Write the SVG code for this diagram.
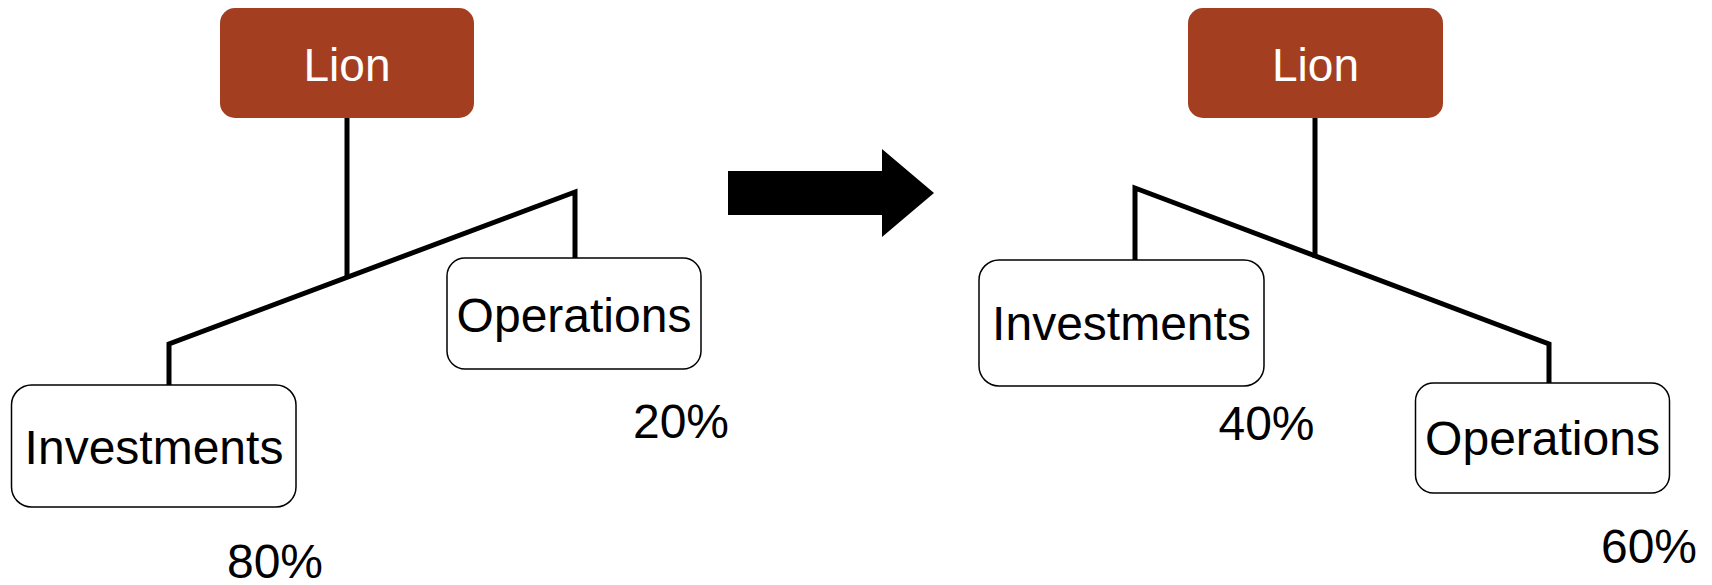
<svg xmlns="http://www.w3.org/2000/svg" width="1712" height="585" viewBox="0 0 1712 585">
<style>
.lion{fill:#A33F20}
.lt{font-family:"Liberation Sans",Arial,sans-serif;font-size:46px;fill:#fff;text-anchor:middle}
.box{fill:#fff;stroke:#000;stroke-width:1.5}
.t{font-family:"Liberation Sans",Arial,sans-serif;font-size:48px;fill:#000;text-anchor:middle}
.c{stroke:#000;stroke-width:5;fill:none;stroke-linecap:butt}
</style>
<rect width="1712" height="585" fill="#fff"/>
<g id="connectors">
<line class="c" x1="347" y1="118" x2="347" y2="279"/>
<polyline class="c" points="169,385 169,344 575,192 575,258"/>
<line class="c" x1="1315" y1="118" x2="1315" y2="258"/>
<polyline class="c" points="1135,260 1135,188 1549,344 1549,384"/>
</g>
<g id="arrow">
<polygon fill="#000" points="728,171 882,171 882,149 934,193 882,237 882,215 728,215"/>
</g>
<g id="lion-left">
<rect class="lion" x="220" y="8" width="254" height="110" rx="15"/>
<text class="lt" x="347" y="81">Lion</text>
</g>
<g id="operations-left">
<rect class="box" x="447" y="258" width="254" height="111" rx="18"/>
<text class="t" x="574" y="332">Operations</text>
</g>
<g id="investments-left">
<rect class="box" x="11.5" y="385" width="284.5" height="122" rx="20"/>
<text class="t" x="154" y="464">Investments</text>
</g>
<text class="t" x="681" y="438">20%</text>
<text class="t" x="275" y="578">80%</text>
<g id="lion-right">
<rect class="lion" x="1188" y="8" width="255" height="110" rx="15"/>
<text class="lt" x="1315.5" y="81">Lion</text>
</g>
<g id="investments-right">
<rect class="box" x="979" y="260" width="285" height="126" rx="20"/>
<text class="t" x="1121.5" y="340">Investments</text>
</g>
<g id="operations-right">
<rect class="box" x="1415.5" y="383" width="254" height="110" rx="18"/>
<text class="t" x="1542.5" y="455">Operations</text>
</g>
<text class="t" x="1266.5" y="440">40%</text>
<text class="t" x="1649" y="563">60%</text>
</svg>
